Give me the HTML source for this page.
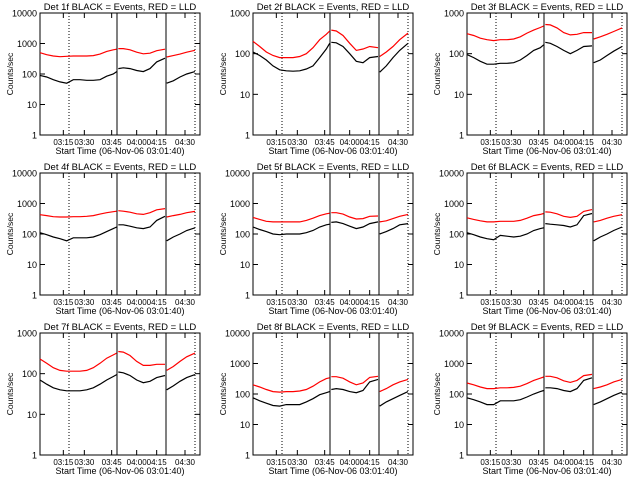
<!DOCTYPE html>
<html><head><meta charset="utf-8"><style>
html,body{margin:0;padding:0;background:#fff;}
svg{display:block;font-family:"Liberation Sans",sans-serif;}
</style></head><body>
<svg id="c" width="640" height="480"></svg>
<script>
const titles=["Det 1f","Det 2f","Det 3f","Det 4f","Det 5f","Det 6f","Det 7f","Det 8f","Det 9f"];
const yMaxDecade=[4,3,3,4,4,4,3,4,4];
const times=[0,4,8,12,16,20,24,28,32,36,40,44,46, 47,50,54,58,62,66,70,75, 76,80,84,88,93];
const segments=[[0,13],[13,21],[21,26]];
const tickTimes=[14,26.6,43,58,70,87];
const tickLabels=["03:15","03:30","03:45","04:00","04:15","04:30"];
const markerTimes=[17.4,46.2,75.6,93];
const markerDotted=[true,false,false,true];
const blackVals=[
[90,80,65,55,50,65,65,62,62,65,85,100,120, 150,160,150,130,120,150,250,330, 50,60,80,100,120],
[110,90,70,50,40,38,37,38,42,50,80,130,180, 190,185,150,100,65,60,80,85, 35,50,80,120,180],
[95,80,65,55,55,58,58,60,70,90,120,140,165, 190,180,150,120,100,120,150,155, 60,70,90,115,150],
[110,95,80,70,60,75,75,75,80,95,120,150,170, 200,200,180,160,150,170,280,380, 60,80,100,130,160],
[170,140,120,100,95,100,100,100,110,130,170,200,210, 240,250,220,180,150,170,220,250, 100,120,150,200,220],
[110,95,80,70,65,90,85,80,85,100,130,150,160, 220,210,200,190,170,200,400,470, 60,80,100,130,170],
[70,55,45,40,38,38,38,40,45,55,70,85,95, 110,105,90,70,60,65,80,90, 40,50,65,80,95],
[75,60,50,42,40,45,45,45,55,70,95,110,120, 140,150,140,120,110,130,250,300, 40,55,70,90,120],
[75,65,55,45,45,60,60,60,65,80,100,120,130, 160,160,150,130,120,150,280,340, 45,55,70,90,115]];
const redVals=[
[500,430,390,370,380,390,390,390,400,450,550,620,650, 680,680,620,520,460,480,580,650, 360,400,450,520,600],
[200,150,110,90,80,80,80,85,100,140,220,300,360, 380,360,280,180,120,130,150,140, 85,110,150,220,320],
[310,280,240,220,210,220,220,230,260,320,380,440,480, 520,510,430,330,290,300,330,330, 230,260,300,350,430],
[430,400,370,360,360,370,370,380,400,450,500,540,560, 580,560,520,460,440,500,620,680, 360,400,440,500,550],
[350,300,260,250,250,250,250,250,280,330,400,460,480, 500,500,450,360,310,320,380,390, 250,270,320,380,440],
[340,300,270,250,250,260,260,260,280,330,400,440,470, 530,520,460,380,350,380,550,630, 250,280,330,380,430],
[230,180,140,120,115,115,115,120,140,180,240,290,320, 350,340,280,200,160,160,170,170, 120,150,200,260,320],
[200,170,140,120,115,120,120,125,140,180,250,320,340, 370,370,330,250,200,230,350,380, 120,150,200,250,300],
[230,200,170,150,150,160,160,165,180,220,280,330,360, 380,380,340,270,240,280,400,440, 150,170,200,250,300]];

const NS="http://www.w3.org/2000/svg";
const svg=document.getElementById('c');
function mk(tag,attrs,parent){const e=document.createElementNS(NS,tag);for(const k in attrs)e.setAttribute(k,attrs[k]);parent.appendChild(e);return e;}
for(let p=0;p<9;p++){
  const col=p%3,row=Math.floor(p/3);
  const ox=Math.round(col*213.4),oy=row*160;
  const L=ox+40,R=ox+200,T=oy+13,B=oy+135;
  const dmax=yMaxDecade[p];
  const xs=t=>L+t/96*(R-L);
  const ys=v=>B-Math.log10(v)/dmax*(B-T);
  const g=mk('g',{},svg);
  
  
  const tt=mk('text',{x:ox+120,y:oy+10,'text-anchor':'middle','font-size':'9.5'},g);
  tt.textContent=titles[p]+" BLACK = Events, RED = LLD";
  
  
  const fr=mk('rect',{x:L,y:T,width:R-L,height:B-T,fill:'none',stroke:'#000','stroke-width':1},g);
  
  
  for(let d=0;d<=dmax;d++){
    const y=ys(Math.pow(10,d));
    mk('line',{x1:L,x2:L+5,y1:y,y2:y,stroke:'#000'},g);
    mk('line',{x1:R-5,x2:R,y1:y,y2:y,stroke:'#000'},g);
    const tl=mk('text',{x:L-3,y:y+3.5,'text-anchor':'end','font-size':'9'},g);
    tl.textContent=String(Math.pow(10,d));
    
    
  }
  for(let i=0;i<tickTimes.length;i++){
    const x=xs(tickTimes[i]);
    mk('line',{x1:x,x2:x,y1:B,y2:B-5,stroke:'#000'},g);
    mk('line',{x1:x,x2:x,y1:T,y2:T+5,stroke:'#000'},g);
    const tl=mk('text',{x:x,y:B+10,'text-anchor':'middle','font-size':'8',textLength:'20',lengthAdjust:'spacingAndGlyphs'},g);
    tl.textContent=tickLabels[i];
    
    
  }
  for(let i=0;i<markerTimes.length;i++){
    const x=xs(markerTimes[i]);
    const ln=mk('line',{x1:x,x2:x,y1:T,y2:B,stroke:'#000','stroke-dasharray':markerDotted[i]?'1,2':'none'},g);
    
    
  }
  const xl=mk('text',{x:ox+120,y:oy+154,'text-anchor':'middle','font-size':'9'},g);
  xl.textContent="Start Time (06-Nov-06 03:01:40)";
  
  
  const yl=mk('text',{x:0,y:0,'text-anchor':'middle','font-size':'8.5',transform:`translate(${ox+13},${oy+74}) rotate(-90)`},g);
  yl.textContent="Counts/sec";
  
  
  [[blackVals[p],'#000','events-series'],[redVals[p],'#f00','lld-series']].forEach(([vals,color,name])=>{
    segments.forEach(([a,b])=>{
      let d='';
      for(let i=a;i<b;i++)d+=(i==a?'M':'L')+xs(times[i]).toFixed(1)+','+ys(vals[i]).toFixed(1);
      const pth=mk('path',{d:d,fill:'none',stroke:color,'stroke-width':1.2},g);
      
      
    });
  });
}
</script>
</body></html>
